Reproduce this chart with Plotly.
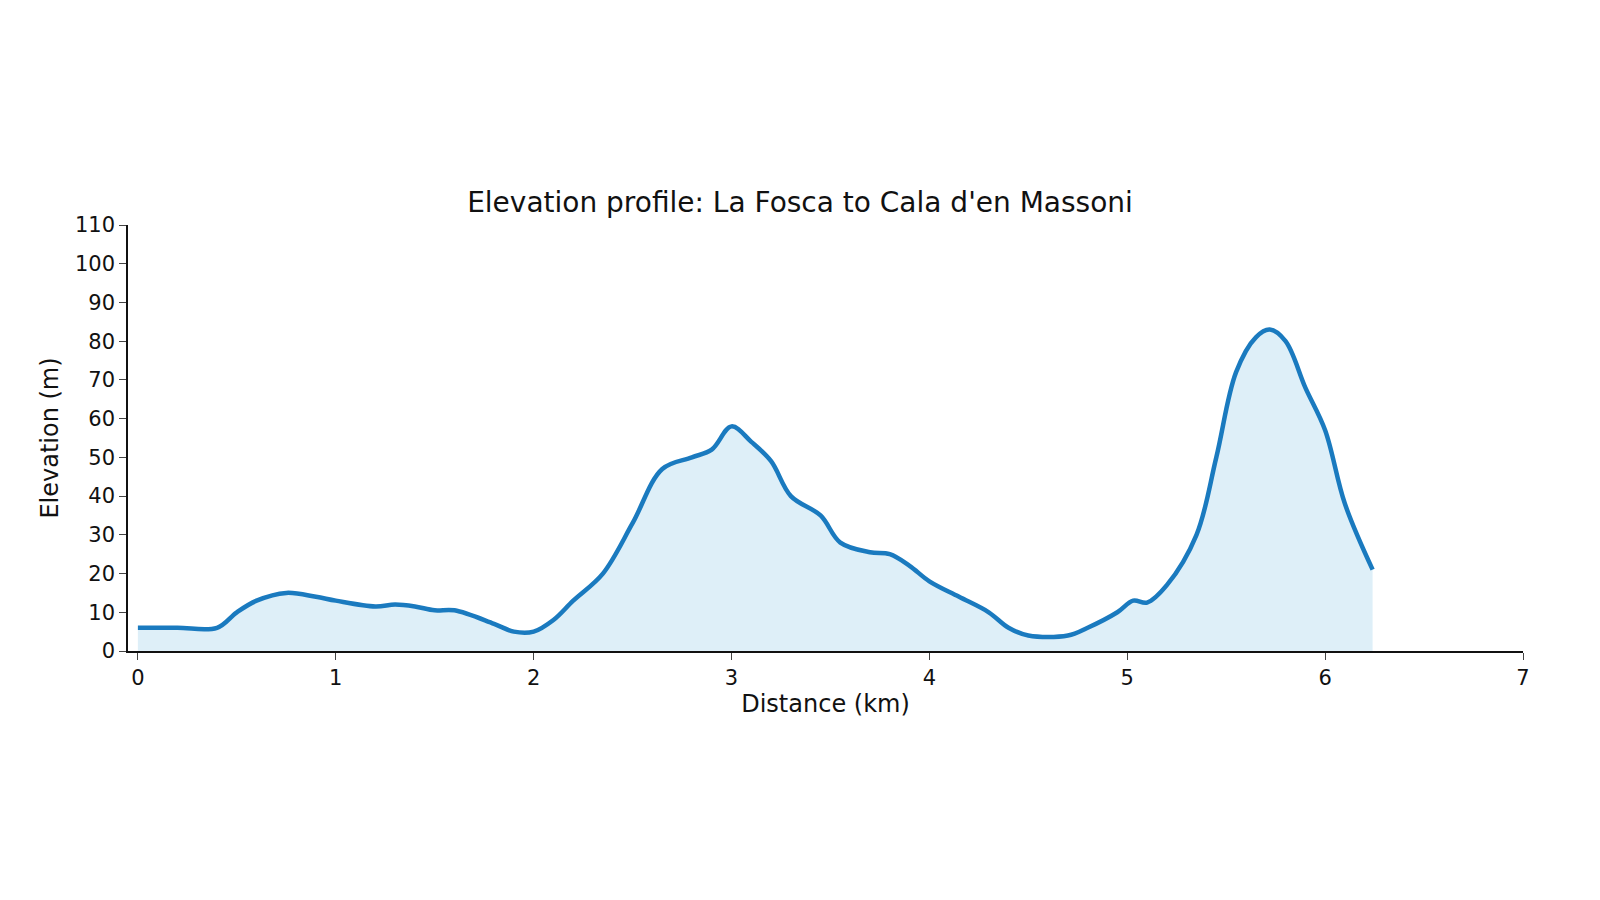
import plotly.graph_objects as go

dist = [0,0.2,0.4,0.5,0.6,0.75,0.9,1.0,1.2,1.3,1.4,1.5,1.6,1.8,1.9,2.0,2.1,2.2,2.35,2.5,2.65,2.8,2.9,3.0,3.1,3.2,3.3,3.45,3.55,3.7,3.8,3.9,4.0,4.15,4.3,4.4,4.5,4.7,4.8,4.95,5.03,5.1,5.2,5.35,5.45,5.55,5.65,5.72,5.8,5.9,6.0,6.1,6.24]
elev = [6,6,6,10,13,15,14,13,11.5,12,11.5,10.5,10.5,7,5,5,8,13,20,33,47,50,52,58,54,49,40,35,28,25.5,25,22,18,14,10,6,4,4,6,10,13,12.5,17,30,50,72,81,83,80,68,57,38,21]

fig = go.Figure(go.Scatter(x=dist, y=elev, mode="lines", line=dict(color="#1a7abf", width=4.5, shape="spline"),
                           fill="tozeroy", fillcolor="rgba(195,225,242,0.55)"))
fig.update_layout(
    autosize=True, paper_bgcolor="white", plot_bgcolor="white",
    margin=dict(l=120, r=69, t=217, b=257), showlegend=False,
    font=dict(family="DejaVu Sans", size=21, color="#111"),
    title=dict(text="Elevation profile: La Fosca to Cala d'en Massoni", x=0.5, xanchor="center", y=0.795, font=dict(size=28)),
)
fig.update_xaxes(range=[-0.05, 7], tickvals=list(range(8)), showgrid=False, zeroline=False, showline=True,
                 linecolor="#111", linewidth=1.5, ticks="outside", ticklen=7,
                 title=dict(text="Distance (km)", standoff=6, font=dict(size=24)))
fig.update_yaxes(range=[0, 110], tickvals=list(range(0, 111, 10)), showgrid=False, zeroline=False, showline=True,
                 linecolor="#111", linewidth=1.5, ticks="outside", ticklen=7,
                 title=dict(text="Elevation (m)", standoff=10, font=dict(size=24)))
fig.write_html("out.html", default_width="100%", default_height="100vh")
